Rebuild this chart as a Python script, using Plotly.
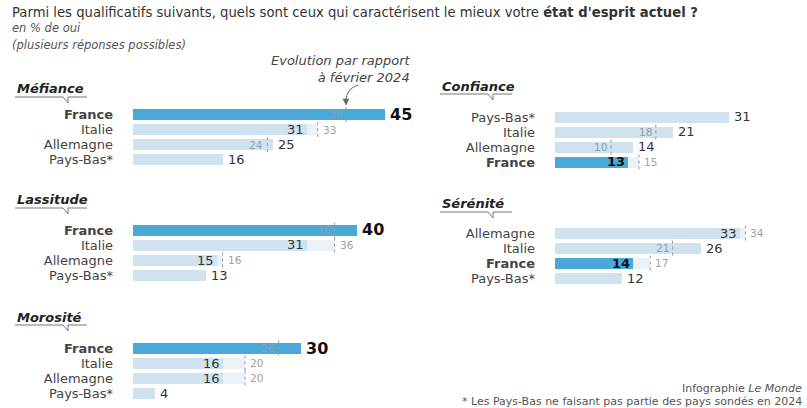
import plotly.graph_objects as go

# --- Data: share of "oui" (%) in 2025 and in February 2024 ---
mefiance_pays = ["France", "Italie", "Allemagne", "Pays-Bas*"]
mefiance_2025 = [45, 31, 25, 16]
mefiance_2024 = [38, 33, 24, None]

lassitude_pays = ["France", "Italie", "Allemagne", "Pays-Bas*"]
lassitude_2025 = [40, 31, 15, 13]
lassitude_2024 = [36, 36, 16, None]

morosite_pays = ["France", "Italie", "Allemagne", "Pays-Bas*"]
morosite_2025 = [30, 16, 16, 4]
morosite_2024 = [26, 20, 20, None]

confiance_pays = ["Pays-Bas*", "Italie", "Allemagne", "France"]
confiance_2025 = [31, 21, 14, 13]
confiance_2024 = [None, 18, 10, 15]

serenite_pays = ["Allemagne", "Italie", "France", "Pays-Bas*"]
serenite_2025 = [33, 26, 14, 12]
serenite_2024 = [34, 21, 17, None]

W, H = 807, 408
FONT = "DejaVu Sans"
BLUE = "#4aa9d9"
LIGHT = "#cfe2ee"
FAINT = "#eaf2f8"


def px(x):
    return x / W


def py(y):
    return 1 - y / H


# panel layout: (title, countries, now, before, left px, range max, first row centre px, title pos, underline)
panels = [
    ("Méfiance", mefiance_pays, mefiance_2025, mefiance_2024, 133, 50, 114.5, (15, 88), 97),
    ("Lassitude", lassitude_pays, lassitude_2025, lassitude_2024, 133, 50, 230, (15, 199), 208),
    ("Morosité", morosite_pays, morosite_2025, morosite_2024, 133, 50, 348, (15, 317), 325),
    ("Confiance", confiance_pays, confiance_2025, confiance_2024, 555, 40, 117, (440, 86), 94),
    ("Sérénité", serenite_pays, serenite_2025, serenite_2024, 555, 40, 233, (440, 203), 212),
]

PX_PER_UNIT = 5.6
ROW = 15.0

fig = go.Figure()
annotations = []
shapes = []
layout_axes = {}

for k, (title, pays, now, before, left, xmax, c0, tpos, uline) in enumerate(panels):
    n = k + 1
    xa = "x" if n == 1 else f"x{n}"
    ya = "y" if n == 1 else f"y{n}"
    xkey = "xaxis" if n == 1 else f"xaxis{n}"
    ykey = "yaxis" if n == 1 else f"yaxis{n}"
    idx = list(range(len(pays)))
    top = c0 - ROW / 2
    bot = c0 + ROW * (len(pays) - 1) + ROW / 2
    right = left + xmax * PX_PER_UNIT

    layout_axes[xkey] = dict(domain=[px(left), px(right)], range=[0, xmax], visible=False,
                             anchor=ya, fixedrange=True)
    ticktext = [f"<b>{p}</b>" if p == "France" else p for p in pays]
    layout_axes[ykey] = dict(domain=[py(bot), py(top)], range=[len(pays) - 0.5, -0.5],
                             anchor=xa, tickvals=idx, ticktext=ticktext, ticks="",
                             showgrid=False, zeroline=False, showline=False,
                             ticklabelstandoff=19,
                             tickfont=dict(family=FONT, size=13, color="#444"),
                             fixedrange=True)

    # faint extension up to last year's level when it was higher
    ext_base = [v for v, b in zip(now, before) if b is not None and b > v]
    ext_len = [b - v for v, b in zip(now, before) if b is not None and b > v]
    ext_y = [i for i, v, b in zip(idx, now, before) if b is not None and b > v]
    if ext_y:
        fig.add_trace(go.Bar(x=ext_len, base=ext_base, y=ext_y, orientation="h",
                             marker=dict(color=FAINT, line=dict(width=0)), width=0.72,
                             xaxis=xa, yaxis=ya, hoverinfo="skip", showlegend=False))

    colors = [BLUE if p == "France" else LIGHT for p in pays]
    fig.add_trace(go.Bar(x=now, y=idx, orientation="h",
                         marker=dict(color=colors, line=dict(width=0)), width=0.72,
                         xaxis=xa, yaxis=ya, hoverinfo="skip", showlegend=False))

    for i, p, v, b in zip(idx, pays, now, before):
        fr = p == "France"
        if b is not None:
            shapes.append(dict(type="line", xref=xa, yref=ya, x0=b, x1=b,
                               y0=i - 0.5, y1=i + 0.5,
                               line=dict(color="#9a9a9a", width=1, dash="dot")))
        if b is not None and b > v:
            # current value sits inside the bar end, last year's value after the marker
            annotations.append(dict(x=v, y=i, xref=xa, yref=ya, text=f"<b>{v}</b>" if fr else str(v),
                                    showarrow=False, xanchor="right", xshift=-1,
                                    font=dict(family=FONT, size=13, color="#111" if fr else "#333")))
            annotations.append(dict(x=b, y=i, xref=xa, yref=ya, text=str(b), showarrow=False,
                                    xanchor="left", xshift=3,
                                    font=dict(family=FONT, size=10.5, color="#a0a0a0")))
        else:
            annotations.append(dict(x=v, y=i, xref=xa, yref=ya, text=f"<b>{v}</b>" if fr else str(v),
                                    showarrow=False, xanchor="left", xshift=3,
                                    font=dict(family=FONT, size=16 if fr else 13,
                                              color="#111" if fr else "#333")))
            if b is not None:
                annotations.append(dict(x=b, y=i, xref=xa, yref=ya, text=str(b), showarrow=False,
                                        xanchor="right", xshift=-2,
                                        font=dict(family=FONT, size=10.5, color="#8aa0b0")))

    # section title with its notched underline
    annotations.append(dict(x=px(tpos[0]), y=py(tpos[1]), xref="paper", yref="paper",
                            text=f"<b><i>{title}</i></b>", showarrow=False,
                            xanchor="left", yanchor="middle",
                            font=dict(family=FONT, size=13, color="#222")))
    x0 = tpos[0]
    shapes.append(dict(type="path", xref="paper", yref="paper",
                       path=(f"M{px(x0)},{py(uline)} L{px(x0 + 48)},{py(uline)} "
                             f"L{px(x0 + 53)},{py(uline + 6)} L{px(x0 + 53)},{py(uline)} "
                             f"L{px(x0 + 72)},{py(uline)}"),
                       line=dict(color="#777", width=1)))

# headings
annotations += [
    dict(x=px(10), y=py(12), xref="paper", yref="paper", xanchor="left", yanchor="middle",
         showarrow=False,
         text="Parmi les qualificatifs suivants, quels sont ceux qui caractérisent le mieux votre "
              "<b>état d'esprit actuel ?</b>",
         font=dict(family=FONT, size=13.2, color="#333")),
    dict(x=px(10), y=py(28), xref="paper", yref="paper", xanchor="left", yanchor="middle",
         showarrow=False, text="<i>en % de oui</i>",
         font=dict(family=FONT, size=11.5, color="#555")),
    dict(x=px(10), y=py(45), xref="paper", yref="paper", xanchor="left", yanchor="middle",
         showarrow=False, text="<i>(plusieurs réponses possibles)</i>",
         font=dict(family=FONT, size=11.5, color="#555")),
    dict(x=px(413), y=py(69), xref="paper", yref="paper", xanchor="right", yanchor="middle",
         showarrow=False, align="right", text="<i>Evolution par rapport<br>à février 2024</i>",
         font=dict(family=FONT, size=13, color="#444")),
    dict(x=px(804), y=py(388), xref="paper", yref="paper", xanchor="right", yanchor="middle",
         showarrow=False, text="Infographie <i>Le Monde</i>",
         font=dict(family=FONT, size=11, color="#555")),
    dict(x=px(804), y=py(401), xref="paper", yref="paper", xanchor="right", yanchor="middle",
         showarrow=False, text="* Les Pays-Bas ne faisant pas partie des pays sondés en 2024",
         font=dict(family=FONT, size=11, color="#555")),
]

# curved pointer towards last year's marker
shapes.append(dict(type="path", xref="paper", yref="paper",
                   path=f"M{px(358)},{py(85)} Q{px(346)},{py(89)} {px(346)},{py(101)}",
                   line=dict(color="#666", width=1)))
shapes.append(dict(type="path", xref="paper", yref="paper",
                   path=f"M{px(343)},{py(99)} L{px(346)},{py(105)} L{px(349)},{py(99)} Z",
                   fillcolor="#666", line=dict(color="#666", width=0.5)))

fig.update_layout(
    width=W, height=H,
    margin=dict(l=0, r=0, t=0, b=0),
    paper_bgcolor="white", plot_bgcolor="rgba(0,0,0,0)",
    barmode="overlay", bargap=0,
    annotations=annotations, shapes=shapes,
    font=dict(family=FONT),
    **layout_axes,
)

fig.write_html("out.html")
